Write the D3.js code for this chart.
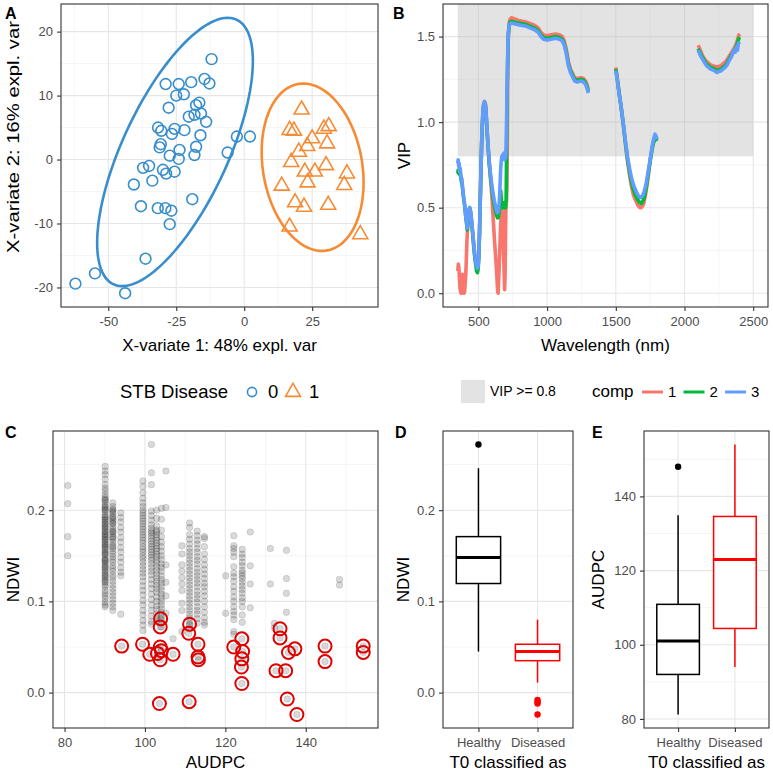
<!DOCTYPE html>
<html><head><meta charset="utf-8">
<script src="https://cdn.jsdelivr.net/npm/d3@7"></script>
<style>
body{margin:0;background:#fff;}
svg{display:block;font-family:"Liberation Sans",Arial,Helvetica,sans-serif;}
</style>
</head><body>
<svg id="fig" width="773" height="772"></svg>
<script>
// ---------------- DATA ----------------
// Panel A: PLS-DA individuals (X-variate 1, X-variate 2)
const stbGroups = ["0", "1"];
const stb0Points = [[-12,15.7],[-28.9,11.8],[-24.1,11.8],[-19.5,12.1],[-14.6,12.6],[-12.8,11.9],[-25,10.0],[-22.2,10.2],[-27.8,8.1],[-17.7,8.5],[-16.5,8.9],[-20.4,6.7],[-18.3,7.0],[-15.9,7.2],[-14,5.9],[-31.7,5.0],[-30.5,4.5],[-25.6,4.8],[-26.6,4.0],[-22,4.6],[-16.1,3.8],[-2.7,3.6],[2.1,3.6],[-6.1,1.1],[-30.7,2.4],[-31.1,1.9],[-23.8,1.5],[-17.7,2.0],[-27.4,0.6],[-24.1,0.1],[-18.3,0.7],[-37.2,-1.3],[-35,-1.0],[-29.9,-1.6],[-28.7,-2.2],[-25.6,-1.9],[-33.8,-3.3],[-40.6,-3.9],[-19.1,-6.2],[-38,-7.3],[-31.8,-7.6],[-29,-7.6],[-26.8,-8.0],[-27.4,-10.1],[-36.3,-15.5],[-54.9,-17.8],[-62.1,-19.4],[-43.8,-20.9]];
const stb1Points = [[21.1,7.8],[16.7,4.6],[18.3,4.5],[29.3,4.8],[31.1,5.2],[25,3.3],[23.2,2.1],[30.5,2.5],[20.1,1.2],[17.3,-0.4],[30.1,-0.9],[22.3,-1.9],[26,-1.9],[37.8,-2.2],[23.3,-3.6],[13.8,-4.1],[36.8,-4.0],[18.7,-6.7],[22,-7.4],[30.9,-7.1],[16.7,-10.5],[42.7,-11.7]];
const aXTicks = [-50,-25,0,25];
const aYTicks = [-20,-10,0,10,20];

// Panel B: VIP by wavelength, three components (null = removed band)
const compNames = ["1","2","3"];
const vipComp1 = [[350,0.13],[354,0.17],[358,0.15],[362,0.09],[366,0.03],[370,0.01],[375,0.0],[380,0.03],[384,0.11],[388,0.07],[392,0.02],[396,0.0],[400,0.01],[404,0.06],[408,0.1],[412,0.19],[416,0.29],[420,0.36],[425,0.41],[430,0.46],[437,0.495],[442,0.48],[447,0.45],[452,0.41],[458,0.36],[465,0.3],[472,0.24],[480,0.19],[487,0.155],[493,0.14],[498,0.155],[503,0.22],[508,0.35],[513,0.52],[518,0.7],[523,0.86],[528,0.98],[533,1.06],[538,1.1],[544,1.12],[550,1.11],[555,1.07],[560,1.0],[566,0.92],[572,0.84],[578,0.76],[585,0.7],[592,0.63],[600,0.54],[606,0.46],[612,0.38],[618,0.3],[624,0.23],[630,0.16],[635,0.09],[640,0.01],[644,0.0],[648,0.08],[652,0.17],[656,0.26],[660,0.36],[664,0.44],[668,0.5],[672,0.49],[676,0.44],[680,0.34],[684,0.22],[688,0.1],[691,0.02],[694,0.1],[697,0.3],[700,0.5],[704,0.53],[708,0.62],[711,0.95],[714,1.3],[718,1.5],[723,1.575],[730,1.6],[740,1.61],[760,1.605],[790,1.595],[820,1.59],[850,1.585],[880,1.575],[910,1.565],[935,1.55],[955,1.525],[975,1.51],[1000,1.505],[1030,1.51],[1060,1.515],[1090,1.51],[1110,1.5],[1125,1.475],[1140,1.425],[1155,1.355],[1170,1.31],[1185,1.285],[1200,1.26],[1220,1.255],[1245,1.26],[1265,1.255],[1280,1.24],[1290,1.22],[1300,1.19],[1400,null],[1500,1.32],[1510,1.26],[1525,1.17],[1540,1.08],[1555,0.98],[1570,0.87],[1585,0.77],[1600,0.69],[1615,0.62],[1630,0.57],[1645,0.54],[1660,0.515],[1675,0.5],[1685,0.5],[1695,0.51],[1705,0.53],[1715,0.57],[1725,0.62],[1735,0.68],[1745,0.74],[1755,0.8],[1765,0.85],[1775,0.89],[1785,0.91],[1792,0.91],[1800,0.9],[1950,null],[2100,1.45],[2115,1.42],[2130,1.39],[2145,1.37],[2160,1.355],[2175,1.345],[2190,1.335],[2205,1.33],[2220,1.325],[2235,1.325],[2250,1.325],[2265,1.33],[2280,1.34],[2295,1.35],[2310,1.365],[2325,1.385],[2340,1.405],[2355,1.425],[2370,1.445],[2385,1.48],[2395,1.51],[2400,1.5]];
const vipComp2 = [[350,0.7],[353,0.72],[357,0.7],[361,0.72],[365,0.69],[369,0.7],[373,0.67],[377,0.65],[381,0.64],[385,0.61],[390,0.57],[395,0.54],[400,0.51],[405,0.47],[410,0.43],[415,0.4],[419,0.37],[423,0.41],[428,0.46],[433,0.49],[437,0.5],[442,0.48],[447,0.45],[452,0.4],[458,0.35],[465,0.28],[472,0.22],[480,0.17],[487,0.13],[493,0.12],[498,0.14],[503,0.21],[508,0.34],[513,0.51],[518,0.69],[523,0.85],[528,0.97],[533,1.05],[538,1.1],[544,1.115],[550,1.105],[555,1.065],[560,0.99],[566,0.91],[572,0.84],[578,0.77],[585,0.71],[592,0.65],[600,0.6],[608,0.55],[616,0.51],[624,0.48],[632,0.455],[640,0.44],[646,0.445],[652,0.48],[657,0.55],[662,0.6],[666,0.56],[670,0.52],[674,0.5],[678,0.53],[682,0.5],[686,0.51],[690,0.5],[694,0.52],[698,0.5],[702,0.55],[706,0.9],[710,1.2],[714,1.4],[718,1.51],[723,1.56],[730,1.585],[740,1.59],[760,1.585],[790,1.58],[820,1.575],[850,1.57],[880,1.56],[910,1.55],[935,1.535],[955,1.51],[975,1.495],[1000,1.49],[1030,1.495],[1060,1.5],[1090,1.495],[1110,1.485],[1125,1.46],[1140,1.41],[1155,1.34],[1170,1.3],[1185,1.275],[1200,1.25],[1220,1.245],[1245,1.25],[1265,1.245],[1280,1.23],[1290,1.21],[1300,1.18],[1400,null],[1500,1.31],[1510,1.255],[1525,1.165],[1540,1.08],[1555,0.985],[1570,0.88],[1585,0.785],[1600,0.71],[1615,0.645],[1630,0.6],[1645,0.57],[1660,0.545],[1675,0.53],[1685,0.525],[1695,0.535],[1705,0.555],[1715,0.59],[1725,0.635],[1735,0.69],[1745,0.745],[1755,0.8],[1765,0.845],[1775,0.88],[1785,0.9],[1792,0.9],[1800,0.89],[1950,null],[2100,1.43],[2115,1.4],[2130,1.38],[2145,1.36],[2160,1.34],[2175,1.33],[2190,1.32],[2205,1.315],[2220,1.31],[2235,1.305],[2250,1.305],[2265,1.31],[2280,1.32],[2295,1.33],[2310,1.345],[2325,1.37],[2340,1.39],[2355,1.41],[2370,1.43],[2385,1.46],[2395,1.49],[2400,1.48]];
const vipComp3 = [[350,0.76],[353,0.78],[357,0.74],[360,0.76],[364,0.71],[368,0.73],[372,0.69],[376,0.66],[380,0.67],[385,0.62],[390,0.58],[395,0.55],[400,0.52],[405,0.47],[410,0.44],[415,0.41],[419,0.38],[423,0.42],[428,0.47],[433,0.49],[437,0.5],[442,0.48],[447,0.45],[452,0.41],[458,0.36],[465,0.3],[472,0.24],[480,0.19],[487,0.16],[493,0.145],[498,0.16],[503,0.22],[508,0.35],[513,0.52],[518,0.7],[523,0.86],[528,0.98],[533,1.06],[538,1.1],[544,1.12],[550,1.11],[555,1.07],[560,1.0],[566,0.92],[572,0.85],[578,0.78],[585,0.72],[592,0.67],[600,0.62],[608,0.58],[616,0.54],[624,0.51],[632,0.48],[640,0.47],[646,0.48],[652,0.53],[657,0.62],[662,0.72],[666,0.77],[670,0.8],[674,0.78],[678,0.81],[682,0.79],[686,0.82],[690,0.78],[694,0.81],[698,0.79],[702,0.85],[706,1.05],[710,1.25],[714,1.42],[718,1.52],[723,1.56],[730,1.575],[740,1.58],[760,1.575],[790,1.57],[820,1.565],[850,1.56],[880,1.55],[910,1.54],[935,1.525],[955,1.5],[975,1.485],[1000,1.48],[1030,1.485],[1060,1.49],[1090,1.485],[1110,1.475],[1125,1.45],[1140,1.4],[1155,1.33],[1170,1.29],[1185,1.265],[1200,1.24],[1220,1.235],[1245,1.24],[1265,1.235],[1280,1.22],[1290,1.2],[1300,1.17],[1400,null],[1500,1.3],[1510,1.25],[1525,1.16],[1540,1.08],[1555,0.99],[1570,0.89],[1585,0.8],[1600,0.73],[1615,0.67],[1630,0.63],[1645,0.6],[1660,0.575],[1675,0.56],[1685,0.56],[1695,0.57],[1705,0.59],[1715,0.62],[1725,0.66],[1735,0.71],[1745,0.76],[1755,0.81],[1765,0.86],[1775,0.9],[1785,0.93],[1792,0.92],[1800,0.9],[1950,null],[2100,1.42],[2115,1.39],[2130,1.37],[2145,1.35],[2160,1.33],[2175,1.32],[2190,1.31],[2205,1.305],[2220,1.3],[2235,1.29],[2250,1.295],[2265,1.3],[2280,1.31],[2295,1.32],[2310,1.335],[2325,1.36],[2340,1.38],[2350,1.4],[2360,1.42],[2370,1.41],[2378,1.44],[2385,1.42],[2392,1.46],[2400,1.47]];
const vipThreshold = 0.8;
const vipRange = [350, 2500];
const bXTicks = [500,1000,1500,2000,2500];
const bYTicks = [0,0.5,1.0,1.5];

// Panel C: NDWI vs AUDPC (all plots, grey) and the diseased-classified ones (red)
const grayAudpc = [80.8, 90.1, 92.0, 94.0, 99.5, 101.6, 102.9, 104.1, 105.2, 107.0, 109.2, 111.1, 113.0, 114.8, 120.1, 122.1, 124.2, 126.2, 131.2, 132.2, 135.2, 148.4];
const grayNdwi = [
 [0.227,0.207,0.171,0.150],
 [0.248,0.243,0.239,0.234,0.228,0.224,0.221,0.217,0.214,0.212,0.209,0.206,0.204,0.203,0.2,0.198,0.195,0.193,0.192,0.189,0.187,0.185,0.184,0.181,0.179,0.177,0.176,0.173,0.171,0.17,0.167,0.165,0.163,0.162,0.159,0.157,0.155,0.153,0.151,0.148,0.146,0.145,0.142,0.14,0.138,0.135,0.133,0.131,0.128,0.126,0.124,0.121,0.118,0.116,0.112,0.109,0.106,0.103,0.099,0.096,0.094,0.211,0.201,0.19,0.182,0.174,0.168,0.16,0.152,0.144,0.137,0.129,0.122],
 [0.208,0.204,0.201,0.198,0.196,0.193,0.19,0.188,0.185,0.182,0.179,0.177,0.174,0.171,0.168,0.165,0.162,0.158,0.155,0.152,0.149,0.146,0.143,0.139,0.136,0.133,0.129,0.126,0.122,0.118,0.114,0.11,0.106,0.102,0.098,0.094,0.09,0.2,0.192,0.186,0.176,0.17,0.16],
 [0.197,0.192,0.187,0.181,0.176,0.17,0.165,0.159,0.154,0.148,0.143,0.137,0.132,0.128,0.086],
 [0.232,0.226,0.219,0.213,0.208,0.204,0.2,0.197,0.194,0.191,0.188,0.185,0.182,0.179,0.176,0.173,0.17,0.167,0.164,0.16,0.157,0.154,0.15,0.147,0.143,0.139,0.135,0.131,0.127,0.122,0.117,0.112,0.107,0.101,0.096,0.09,0.085,0.079,0.074,0.068],
 [0.272,0.241,0.228,0.199,0.194,0.189,0.184,0.18,0.177,0.175,0.172,0.169,0.166,0.163,0.16,0.157,0.154,0.151,0.148,0.145,0.141,0.137,0.133,0.129,0.124,0.119,0.114,0.108,0.102,0.096,0.09,0.084,0.078,0.075],
 [0.2,0.191,0.183,0.178,0.176,0.173,0.17,0.167,0.164,0.161,0.158,0.155,0.152,0.149,0.145,0.142,0.138,0.134,0.13,0.126,0.122,0.118,0.114,0.11,0.105,0.1,0.095,0.091,0.086,0.082,0.078],
 [0.202,0.19,0.178,0.171,0.165,0.16,0.155,0.15,0.146,0.141,0.137,0.133,0.128,0.124,0.12,0.116,0.112,0.108,0.104,0.1,0.096,0.092,0.088,0.084,0.08,0.076,0.072],
 [0.243,0.203,0.14,0.121,0.106,0.087],
 [0.059],
 [0.161,0.152,0.14,0.133,0.126,0.119,0.112,0.098,0.09,0.067],
 [0.186,0.181,0.173,0.168,0.163,0.158,0.154,0.15,0.146,0.142,0.138,0.134,0.13,0.126,0.122,0.118,0.114,0.11,0.106,0.102,0.098,0.094,0.09,0.086,0.082,0.078,0.074,0.07],
 [0.177,0.172,0.167,0.163,0.158,0.154,0.149,0.145,0.141,0.136,0.132,0.128,0.124,0.12,0.116,0.111,0.107,0.103,0.099,0.094,0.09,0.086,0.081,0.076],
 [0.171,0.169,0.16,0.152,0.146,0.14,0.135,0.13,0.125,0.12,0.116,0.111,0.106,0.1,0.094,0.088,0.082,0.077,0.074],
 [0.128,0.087],
 [0.172,0.161,0.158,0.154,0.149,0.138,0.131,0.127,0.122,0.116,0.111,0.105,0.1,0.094,0.089,0.085,0.08,0.067,0.064],
 [0.157,0.152,0.148,0.143,0.139,0.134,0.131,0.128,0.125,0.121,0.117,0.113,0.109,0.104,0.1,0.094,0.085,0.077],
 [0.176,0.139,0.119,0.093],
 [0.158,0.119],
 [0.076,0.071],
 [0.156,0.125,0.109,0.088],
 [0.124,0.118]
];
const diseasedAudpc = [94.2,99.4,101.2,103.9,103.8,103.8,104.1,103.8,103.1,107,103.6,111.1,110.9,113.2,113.2,113.3,111,122.1,124.1,124.3,124.1,124,124.1,133.6,133.6,135.7,137.3,132.6,135,135.4,137.8,144.8,144.8,154.3,154.3];
const diseasedNdwi = [0.051,0.053,0.042,0.081,0.072,0.050,0.046,0.036,0.043,0.042,-0.012,0.075,0.065,0.053,0.039,0.036,-0.010,0.050,0.059,0.045,0.037,0.028,0.010,0.070,0.060,0.044,0.048,0.024,0.024,-0.007,-0.024,0.051,0.034,0.051,0.044];
const cXTicks = [80,100,120,140];
const ndwiTicks = [0,0.1,0.2];

// Panels D & E: boxplot summaries [lower whisker, Q1, median, Q3, upper whisker]
const classGroups = ["Healthy","Diseased"];
const classColors = ["#000000","#FF0000"];
const ndwiBoxStats = [[0.045,0.1196,0.148,0.171,0.246],[0.011,0.035,0.045,0.053,0.080]];
const ndwiOutliers = [[0.272],[-0.008,-0.010,-0.012,-0.024]];
const audpcBoxStats = [[81.2,92,101,110.9,134.9],[94,104.4,123,134.6,154]];
const audpcOutliers = [[148],[]];
const eYTicks = [80,100,120,140];

// ---------------- DRAWING ----------------
const svg = d3.select("#fig");
const TICK_COL = "#4D4D4D", BORDER = "#333333";
const stbColors = ["#388ECC","#F68B33"];
const compColors = ["#F8766D","#00BA38","#619CFF"];

function panelGrid(box, xs, ys, o) {
  const g = svg.append("g");
  g.append("rect").attr("x",box.l).attr("y",box.t).attr("width",box.r-box.l).attr("height",box.b-box.t).attr("fill","#fff");
  const vline = (v,c,w) => g.append("line").attr("x1",xs(v)).attr("x2",xs(v)).attr("y1",box.t).attr("y2",box.b).attr("stroke",c).attr("stroke-width",w);
  const hline = (v,c,w) => g.append("line").attr("y1",ys(v)).attr("y2",ys(v)).attr("x1",box.l).attr("x2",box.r).attr("stroke",c).attr("stroke-width",w);
  (o.xMinor||[]).forEach(v=>vline(v,"#F0F0F0",0.7));
  (o.yMinor||[]).forEach(v=>hline(v,"#F0F0F0",0.7));
  (o.xMajor||[]).forEach(v=>vline(v,"#E6E6E6",1.1));
  (o.yMajor||[]).forEach(v=>hline(v,"#E6E6E6",1.1));
}
function panelAxes(box, xs, ys, o) {
  svg.append("rect").attr("x",box.l).attr("y",box.t).attr("width",box.r-box.l).attr("height",box.b-box.t)
    .attr("fill","none").attr("stroke",BORDER).attr("stroke-width",1.1);
  const ax = d3.axisBottom(xs).tickSize(4).tickPadding(6);
  if (o.xTicks) ax.tickValues(o.xTicks);
  if (o.xFmt) ax.tickFormat(o.xFmt);
  const gx = svg.append("g").attr("transform",`translate(0,${box.b})`).call(ax);
  const ay = d3.axisLeft(ys).tickValues(o.yTicks).tickFormat(o.yFmt).tickSize(4).tickPadding(4);
  const gy = svg.append("g").attr("transform",`translate(${box.l},0)`).call(ay);
  [gx,gy].forEach(g=>{
    g.select(".domain").remove();
    g.selectAll(".tick line").attr("stroke",BORDER).attr("stroke-width",1.1);
    g.selectAll(".tick text").attr("fill",TICK_COL).style("font-size","13px").style("font-family","'Liberation Sans',Arial,sans-serif");
  });
}
function label(txt, x, y, opt) {
  const t = svg.append("text").attr("x",x).attr("y",y).text(txt)
    .attr("font-size",(opt&&opt.size)||17).attr("fill","#000");
  if (opt && opt.anchor) t.attr("text-anchor",opt.anchor);
  if (opt && opt.bold) t.attr("font-weight","bold");
  if (opt && opt.rotate) t.attr("transform",`rotate(-90,${x},${y})`);
  if (opt && opt.len) t.attr("textLength",opt.len).attr("lengthAdjust","spacingAndGlyphs");
  return t;
}
const hyphenFmt = d => String(d).replace("\u2212","-");

// ----- Panel A -----
const boxA = {l:61, r:378, t:4, b:307};
const allA = stb0Points.concat(stb1Points);
function expandDomain(vals, f) { const e = d3.extent(vals); const p = (e[1]-e[0])*f; return [e[0]-p, e[1]+p]; }
function ellipseRing(pts) {
  const n = pts.length, mx = d3.mean(pts,d=>d[0]), my = d3.mean(pts,d=>d[1]);
  let sxx=0,syy=0,sxy=0;
  pts.forEach(([x,y])=>{sxx+=(x-mx)**2; syy+=(y-my)**2; sxy+=(x-mx)*(y-my);});
  sxx/=(n-1); syy/=(n-1); sxy/=(n-1);
  const tr=sxx+syy, det=sxx*syy-sxy*sxy, disc=Math.sqrt(tr*tr/4-det);
  const l1=tr/2+disc, l2=tr/2-disc, ang=Math.atan2(l1-sxx, sxy);
  const t=Math.sqrt(5.991), a=t*Math.sqrt(l1), b=t*Math.sqrt(l2);
  return d3.range(0,121).map(i=>{const th=2*Math.PI*i/120, ex=a*Math.cos(th), ey=b*Math.sin(th);
    return [mx+ex*Math.cos(ang)-ey*Math.sin(ang), my+ex*Math.sin(ang)+ey*Math.cos(ang)];});
}
const ringA0 = ellipseRing(stb0Points), ringA1 = ellipseRing(stb1Points);
const allRing = allA.concat(ringA0, ringA1);
const xA = d3.scaleLinear().domain(expandDomain(allRing.map(d=>d[0]),0.05)).range([boxA.l,boxA.r]);
const yA = d3.scaleLinear().domain(expandDomain(allRing.map(d=>d[1]),0.05)).range([boxA.b,boxA.t]);
panelGrid(boxA, xA, yA, {xMajor:aXTicks, yMajor:aYTicks, xMinor:[-62.5,-37.5,-12.5,12.5,37.5], yMinor:[-15,-5,5,15]});
const lineA = d3.line().x(d=>xA(d[0])).y(d=>yA(d[1]));
svg.append("path").attr("d",lineA(ringA0)).attr("fill","none").attr("stroke",stbColors[0]).attr("stroke-width",2.6);
svg.append("path").attr("d",lineA(ringA1)).attr("fill","none").attr("stroke",stbColors[1]).attr("stroke-width",2.6);
svg.append("g").selectAll("circle").data(stb0Points).join("circle")
  .attr("cx",d=>xA(d[0])).attr("cy",d=>yA(d[1])).attr("r",5.4)
  .attr("fill","none").attr("stroke",stbColors[0]).attr("stroke-width",1.6);
const triPath = (cx,cy,s) => { const h=s*0.866; return `M${cx},${cy-2*h/3}L${cx+s/2},${cy+h/3}L${cx-s/2},${cy+h/3}Z`; };
svg.append("g").selectAll("path").data(stb1Points).join("path")
  .attr("d",d=>triPath(xA(d[0]),yA(d[1]),15))
  .attr("fill","none").attr("stroke",stbColors[1]).attr("stroke-width",1.6).attr("stroke-linejoin","miter");
panelAxes(boxA, xA, yA, {xTicks:aXTicks, xFmt:hyphenFmt, yTicks:aYTicks, yFmt:hyphenFmt});
label("X-variate 1: 48% expl. var", (boxA.l+boxA.r)/2, 351, {anchor:"middle"});
label("X-variate 2: 16% expl. var", 19, 137, {anchor:"middle", rotate:true, len:232});
label("A", 5, 19, {bold:true, size:16});

// ----- Panel B -----
const boxB = {l:443, r:768, t:4, b:307};
const allVip = vipComp1.concat(vipComp2, vipComp3).filter(d=>d[1]!=null);
const xB = d3.scaleLinear().domain(expandDomain(vipRange,0.05)).range([boxB.l,boxB.r]);
const yB = d3.scaleLinear().domain(expandDomain(allVip.map(d=>d[1]),0.05)).range([boxB.b,boxB.t]);
panelGrid(boxB, xB, yB, {xMajor:bXTicks, yMajor:bYTicks, xMinor:[250,750,1250,1750,2250], yMinor:[0.25,0.75,1.25]});
svg.append("rect").attr("x",xB(vipRange[0])).attr("width",xB(vipRange[1])-xB(vipRange[0]))
  .attr("y",boxB.t).attr("height",yB(vipThreshold)-boxB.t).attr("fill","#BDBDBD").attr("opacity",0.42);
const lineB = d3.line().defined(d=>d[1]!=null).x(d=>xB(d[0])).y(d=>yB(d[1])).curve(d3.curveLinear);
[vipComp1, vipComp2, vipComp3].forEach((s,i)=>{
  svg.append("path").attr("d",lineB(s)).attr("fill","none").attr("stroke",compColors[i])
    .attr("stroke-width",3.6).attr("stroke-linejoin","round").attr("stroke-linecap","butt");
});
panelAxes(boxB, xB, yB, {xTicks:bXTicks, xFmt:d3.format("d"), yTicks:bYTicks, yFmt:d3.format(".1f")});
label("Wavelength (nm)", (boxB.l+boxB.r)/2, 351, {anchor:"middle"});
label("VIP", 410, (boxB.t+boxB.b)/2, {anchor:"middle", rotate:true});
label("B", 393, 19, {bold:true, size:16});

// ----- Legends row -----
label("STB Disease", 120, 398, {size:18.5});
svg.append("circle").attr("cx",252).attr("cy",392).attr("r",4.6).attr("fill","none").attr("stroke",stbColors[0]).attr("stroke-width",1.6);
label(stbGroups[0], 268, 398, {size:18.5});
svg.append("path").attr("d",triPath(293,392,15)).attr("fill","none").attr("stroke",stbColors[1]).attr("stroke-width",1.6);
label(stbGroups[1], 309, 398, {size:18.5});
svg.append("rect").attr("x",461).attr("y",380).attr("width",24).attr("height",23).attr("fill","#BDBDBD").attr("opacity",0.42);
label("VIP >= " + vipThreshold, 490, 396, {size:14});
label("comp", 592, 397, {size:17});
compNames.forEach((c,i)=>{
  const x0 = 642 + i*41.5;
  svg.append("line").attr("x1",x0).attr("x2",x0+21).attr("y1",392).attr("y2",392).attr("stroke",compColors[i]).attr("stroke-width",3);
  label(c, x0+26, 397, {size:15});
});

// ----- Panel C -----
const boxC = {l:53, r:378, t:431, b:728};
const grayPts = [];
grayAudpc.forEach((a,i)=>grayNdwi[i].forEach(v=>grayPts.push([a,v])));
diseasedAudpc.forEach((a,i)=>grayPts.push([a,diseasedNdwi[i]]));
const xC = d3.scaleLinear().domain(expandDomain(grayPts.map(d=>d[0]),0.05)).range([boxC.l,boxC.r]);
const yC = d3.scaleLinear().domain(expandDomain(grayPts.map(d=>d[1]),0.05)).range([boxC.b,boxC.t]);
panelGrid(boxC, xC, yC, {xMajor:cXTicks, yMajor:ndwiTicks, xMinor:[90,110,130,150], yMinor:[0.05,0.15,0.25]});
svg.append("g").selectAll("circle").data(grayPts).join("circle")
  .attr("cx",d=>xC(d[0])).attr("cy",d=>yC(d[1])).attr("r",3.3)
  .attr("fill","#000").attr("fill-opacity",0.15).attr("stroke","#000").attr("stroke-opacity",0.14).attr("stroke-width",0.8);
svg.append("g").selectAll("circle").data(diseasedAudpc.map((a,i)=>[a,diseasedNdwi[i]])).join("circle")
  .attr("cx",d=>xC(d[0])).attr("cy",d=>yC(d[1])).attr("r",6.5)
  .attr("fill","none").attr("stroke","#E00000").attr("stroke-width",2);
panelAxes(boxC, xC, yC, {xTicks:cXTicks, xFmt:d3.format("d"), yTicks:ndwiTicks, yFmt:d3.format(".1f")});
label("AUDPC", (boxC.l+boxC.r)/2, 768, {anchor:"middle"});
label("NDWI", 19, (boxC.t+boxC.b)/2, {anchor:"middle", rotate:true});
label("C", 5, 438, {bold:true, size:16});

// ----- Box panels D, E -----
function boxPanel(box, stats, outs, ys, yTicks, yFmt, yMinor, ytitle, ytitleX, letter, letterX) {
  const xs = d3.scalePoint().domain(classGroups).range([box.l,box.r]).padding(0.6);
  panelGrid(box, xs, ys, {xMajor:classGroups, yMajor:yTicks, yMinor:yMinor});
  const bw = xs.step()*0.75;
  classGroups.forEach((gname,i)=>{
    const s = stats[i], cx = xs(gname), col = classColors[i];
    const g = svg.append("g");
    g.append("line").attr("x1",cx).attr("x2",cx).attr("y1",ys(s[0])).attr("y2",ys(s[1])).attr("stroke",col).attr("stroke-width",1.5);
    g.append("line").attr("x1",cx).attr("x2",cx).attr("y1",ys(s[3])).attr("y2",ys(s[4])).attr("stroke",col).attr("stroke-width",1.5);
    g.append("rect").attr("x",cx-bw/2).attr("width",bw).attr("y",ys(s[3])).attr("height",ys(s[1])-ys(s[3]))
      .attr("fill","#fff").attr("stroke",col).attr("stroke-width",1.5);
    g.append("line").attr("x1",cx-bw/2).attr("x2",cx+bw/2).attr("y1",ys(s[2])).attr("y2",ys(s[2])).attr("stroke",col).attr("stroke-width",3);
    outs[i].forEach(v=>g.append("circle").attr("cx",cx).attr("cy",ys(v)).attr("r",3.2).attr("fill",col));
  });
  panelAxes(box, xs, ys, {yTicks:yTicks, yFmt:yFmt});
  label("T0 classified as", (box.l+box.r)/2, 768, {anchor:"middle"});
  label(ytitle, ytitleX, (box.t+box.b)/2, {anchor:"middle", rotate:true});
  label(letter, letterX, 438, {bold:true, size:16});
}
const boxD = {l:443, r:573, t:431, b:728};
const yD = d3.scaleLinear().domain(yC.domain()).range([boxD.b,boxD.t]);
boxPanel(boxD, ndwiBoxStats, ndwiOutliers, yD, ndwiTicks, d3.format(".1f"), [0.05,0.15,0.25], "NDWI", 409, "D", 395);
const boxE = {l:644, r:769, t:431, b:728};
const eVals = audpcBoxStats.flat().concat(audpcOutliers.flat());
const yE = d3.scaleLinear().domain(expandDomain(eVals,0.05)).range([boxE.b,boxE.t]);
boxPanel(boxE, audpcBoxStats, audpcOutliers, yE, eYTicks, d3.format("d"), [90,110,130,150], "AUDPC", 604, "E", 592);
</script>
</body></html>
